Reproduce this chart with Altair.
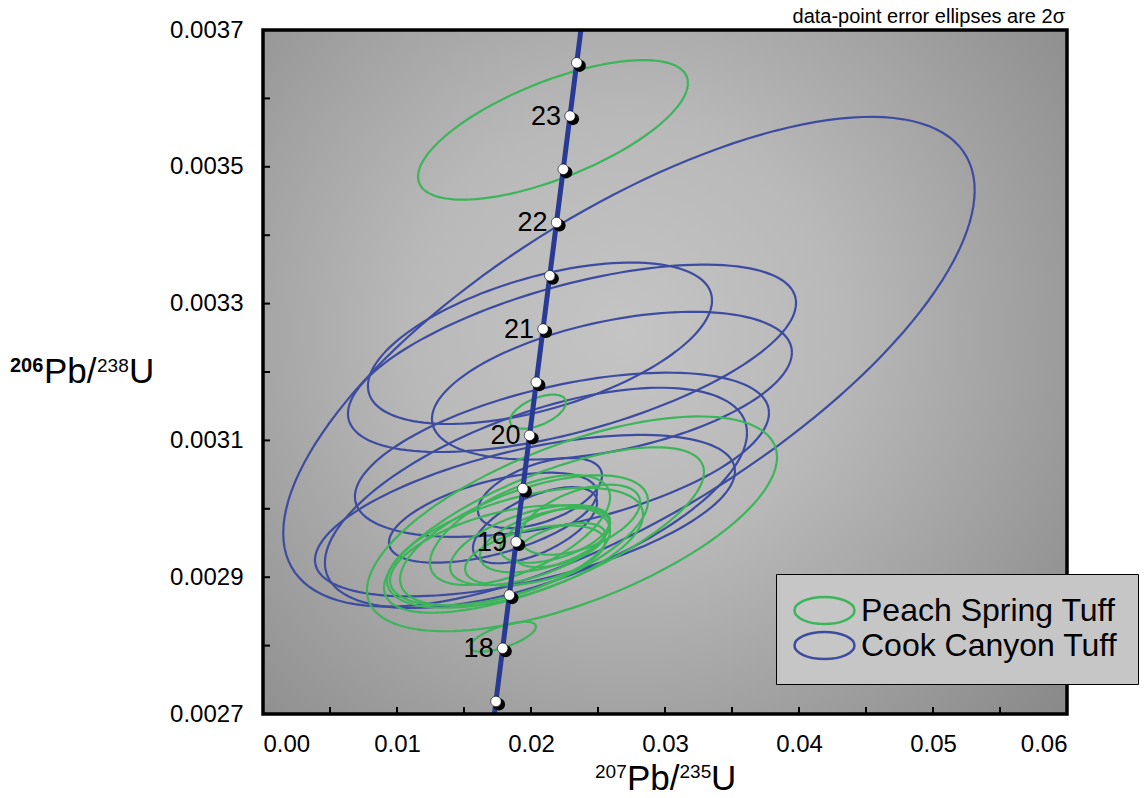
import numpy as np
import pandas as pd
import altair as alt

# ---------------- data ----------------
# Peach Spring Tuff: 207Pb/235U, 206Pb/238U, 2-sigma half extents, error correlation
pst_x = [0.02164, 0.02052, 0.01791, 0.02306, 0.02097, 0.01948, 0.01881, 0.01769,
         0.01993, 0.02104, 0.02179, 0.02030, 0.02216, 0.01918, 0.02366]
pst_y = [0.003554, 0.003142, 0.002813, 0.002978, 0.002969, 0.002954, 0.002943, 0.002932,
         0.002947, 0.002954, 0.002962, 0.002932, 0.002947, 0.002969, 0.002984]
pst_ex = [0.01007, 0.00209, 0.00246, 0.01530, 0.01194, 0.00925, 0.00955, 0.00821,
          0.00597, 0.00485, 0.00410, 0.00522, 0.00336, 0.00672, 0.00448]
pst_ey = [0.000102, 0.0000249, 0.0000219, 0.000157, 0.000121, 0.000095, 0.0000877, 0.0000731,
          0.0000585, 0.0000468, 0.0000409, 0.0000439, 0.0000322, 0.0000804, 0.0000512]
pst_rho = [0.67, 0.54, 0.67, 0.62, 0.70, 0.60, 0.55, 0.50, 0.55, 0.50, 0.50, 0.45, 0.50, 0.60, 0.50]

# Cook Canyon Tuff
cct_x = [0.02731, 0.02067, 0.02306, 0.02604, 0.02231, 0.02037, 0.01955, 0.02067, 0.02030, 0.01716]
cct_y = [0.003215, 0.003242, 0.003220, 0.003180, 0.003079, 0.003016, 0.002990, 0.003023, 0.002976, 0.002987]
cct_ex = [0.02580, 0.01284, 0.01672, 0.01343, 0.01545, 0.01575, 0.01567, 0.00463, 0.00463, 0.00776]
cct_ey = [0.000358, 0.000118, 0.000137, 0.000108, 0.000120, 0.000161, 0.000118, 0.0000512, 0.0000556, 0.0000658]
cct_rho = [0.70, 0.53, 0.59, 0.45, 0.51, 0.59, 0.55, 0.50, 0.60, 0.55]

# Concordia (Ma)
line_ages = [16.5, 17.0, 18.0, 19.0, 20.0, 21.0, 22.0, 23.0, 24.0, 24.5]
marker_ages = [17.5, 18.0, 18.5, 19.0, 19.5, 20.0, 20.5, 21.0, 21.5, 22.0, 22.5, 23.0, 23.5]
label_ages = [18, 19, 20, 21, 22, 23]
LAMBDA_238 = 1.55125e-10
LAMBDA_235 = 9.8485e-10

x_labels = [0.00, 0.01, 0.02, 0.03, 0.04, 0.05, 0.06]
y_labels = [0.0027, 0.0029, 0.0031, 0.0033, 0.0035, 0.0037]
x_ticks = [0.005, 0.010, 0.015, 0.020, 0.025, 0.030, 0.035, 0.040, 0.045, 0.050, 0.055]
y_ticks = [0.0028, 0.0029, 0.0030, 0.0031, 0.0032, 0.0033, 0.0034, 0.0035, 0.0036]

GROUPS = ["Peach Spring Tuff", "Cook Canyon Tuff"]
COLORS = ["#3cb55a", "#3d4ca0"]
NOTE = "data-point error ellipses are 2σ"

# ---------------- build tables ----------------
def ellipses(group, xs, ys, exs, eys, rhos):
    rows = []
    t = np.linspace(0, 2 * np.pi, 145)
    for i, (cx, cy, ex, ey, r) in enumerate(zip(xs, ys, exs, eys, rhos)):
        px = cx + ex * np.cos(t)
        py = cy + ey * (r * np.cos(t) + np.sqrt(1 - r * r) * np.sin(t))
        for k in range(len(t)):
            rows.append({"group": group, "id": f"{group}-{i}", "k": k, "x": px[k], "y": py[k]})
    return pd.DataFrame(rows)

pst_df = ellipses(GROUPS[0], pst_x, pst_y, pst_ex, pst_ey, pst_rho)
cct_df = ellipses(GROUPS[1], cct_x, cct_y, cct_ex, cct_ey, cct_rho)

def concordia(ages):
    a = np.array(ages, dtype=float) * 1e6
    return pd.DataFrame({"age": ages,
                         "x": np.exp(LAMBDA_235 * a) - 1,
                         "y": np.exp(LAMBDA_238 * a) - 1})

line_df = concordia(line_ages)
mark_df = concordia(marker_ages)
lab_df = concordia(label_ages)
lab_df["label"] = [str(a) for a in label_ages]

W, H = 804, 684
FONT = "Liberation Sans"

xscale = alt.Scale(domain=[0, 0.06], nice=False, zero=False)
yscale = alt.Scale(domain=[0.0027, 0.0037], nice=False, zero=False)

x_axis = alt.Axis(values=x_labels, format=".2f", labelFontSize=24, labelPadding=18,
                  ticks=False, tickSize=0, domain=False, grid=False, labelColor="black",
                  title=None, labelFont=FONT)
y_axis = alt.Axis(values=y_labels, format=".4f", labelFontSize=24, labelPadding=20,
                  ticks=False, tickSize=0, domain=False, grid=False, labelColor="black",
                  title=None, labelFont=FONT)

X = alt.X("x:Q", scale=xscale, axis=x_axis)
Y = alt.Y("y:Q", scale=yscale, axis=y_axis)

ellipse_path = "M-2,0A2,0.9,0,1,1,2,0A2,0.9,0,1,1,-2,0Z"
color = alt.Color("group:N", scale=alt.Scale(domain=GROUPS, range=COLORS),
                  legend=alt.Legend(title=None, orient="none", legendX=513, legendY=544,
                                    labelFontSize=32, labelColor="black", labelFont=FONT,
                                    labelLimit=600,
                                    symbolType=ellipse_path, symbolSize=900,
                                    symbolOffset=12, symbolStrokeWidth=2.5,
                                    fillColor="#c6c6c6", strokeColor="black",
                                    padding=20, rowPadding=-4, labelOffset=20))

gradient = {"gradient": "radial",
            "x1": 0.45, "y1": 0.45, "r1": 0,
            "x2": 0.45, "y2": 0.45, "r2": 0.75,
            "stops": [{"offset": 0, "color": "#c4c4c4"},
                      {"offset": 0.35, "color": "#b9b9b9"},
                      {"offset": 1, "color": "#868686"}]}

one = pd.DataFrame({"a": [0]})
bg = alt.Chart(one).mark_rect(fill=gradient).encode(
    x=alt.value(0), x2=alt.value(W), y=alt.value(0), y2=alt.value(H))

blue = alt.Chart(cct_df).mark_line(strokeWidth=2.2, clip=True).encode(
    x=X, y=Y, detail="id:N", order="k:Q", color=color)
green = alt.Chart(pst_df).mark_line(strokeWidth=2.2, clip=True).encode(
    x=X, y=Y, detail="id:N", order="k:Q", color=color)

conc = alt.Chart(line_df).mark_line(strokeWidth=5, color="#283a94", clip=True).encode(
    x=X, y=Y, order="age:Q")
shadow = alt.Chart(mark_df).mark_circle(size=150, color="black", opacity=1,
                                        xOffset=3, yOffset=3).encode(x=X, y=Y)
dots = alt.Chart(mark_df).mark_circle(size=110, color="white", opacity=1,
                                      stroke="black", strokeWidth=0.6).encode(x=X, y=Y)
labels = alt.Chart(lab_df).mark_text(align="right", baseline="middle", dx=-9, dy=1,
                                     fontSize=27, font=FONT, color="black").encode(
    x=X, y=Y, text="label:N")

xt = alt.Chart(pd.DataFrame({"x": x_ticks})).mark_rule(color="black", strokeWidth=2).encode(
    x=X, y=alt.value(H - 7), y2=alt.value(H))
yt = alt.Chart(pd.DataFrame({"y": y_ticks})).mark_rule(color="black", strokeWidth=2).encode(
    y=Y, x=alt.value(0), x2=alt.value(7))

frame = alt.Chart(one).mark_rect(fillOpacity=0, stroke="black", strokeWidth=3.5).encode(
    x=alt.value(0), x2=alt.value(W), y=alt.value(0), y2=alt.value(H))


def txt(s, x, y, size, weight="normal", align="left"):
    return alt.Chart(one).mark_text(text=s, align=align, baseline="alphabetic",
                                    fontSize=size, fontWeight=weight, font=FONT,
                                    color="black").encode(x=alt.value(x), y=alt.value(y))

# axis titles with superscript mass numbers
x_title = [txt("207", 332, 748, 19), txt("Pb/", 364, 760, 35),
           txt("235", 416.5, 748, 19), txt("U", 448, 760, 35)]
y_title = [txt("206", -253, 342, 20, "bold"), txt("Pb/", -219, 353, 35),
           txt("238", -166, 342, 19), txt("U", -134, 353, 35)]
note = txt(NOTE, 802, -7, 20, align="right")

chart = alt.layer(bg, blue, green, conc, shadow, dots, labels, xt, yt, frame,
                  *x_title, *y_title, note).properties(
    width=W, height=H,
    autosize=alt.AutoSizeParams(type="none"),
    padding={"left": 263, "top": 30, "right": 77, "bottom": 84},
).configure_view(stroke=None).configure_legend(strokeWidth=2.5).configure(font=FONT)

chart.save("out.html", embed_options={"renderer": "svg", "actions": False})
